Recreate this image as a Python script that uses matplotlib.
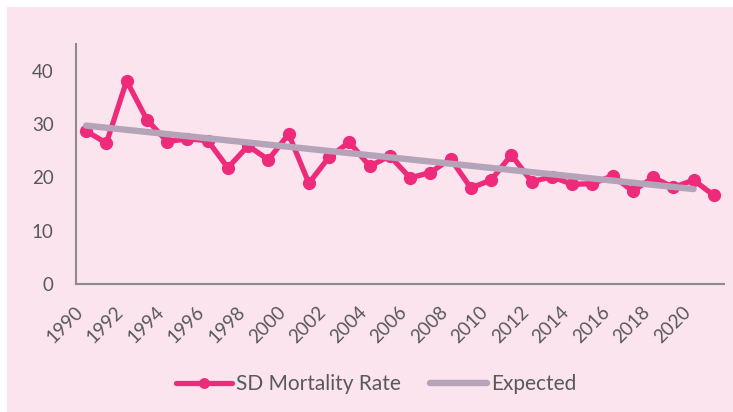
"""
SD mortality rate against expected trend, 1990-2021.
"""

from matplotlib import pyplot as plt

years = list(range(1990, 2022))
mortality = [
    28.7, 26.4, 38.1, 30.8, 26.7, 27.2, 26.9, 21.8, 25.9, 23.3,
    28.1, 18.9, 23.8, 26.6, 22.1, 24.0, 19.9, 20.9, 23.5, 18.0,
    19.5, 24.2, 19.2, 20.1, 18.7, 18.8, 20.3, 17.4, 20.0, 18.1,
    19.5, 16.6,
]
expected_years = [1990, 2020]
expected = [29.7, 17.8]
tick_years = list(range(1990, 2021, 2))
y_ticks = [0, 10, 20, 30, 40]

pink = '#EE2A7B'
lavender = '#B4A3B9'
background = '#FBE4EE'
text_color = '#595959'

plt.rcParams['font.family'] = ['Lato', 'DejaVu Sans']

fig = plt.figure(figsize=(7.33, 4.12), dpi=100)
fig.patch.set_facecolor(background)
# thin white margin along the top and left edges
for xy, w, h in [((0, 1 - 7 / 412), 1, 7 / 412), ((0, 0), 7 / 733, 1)]:
    fig.patches.append(plt.Rectangle(xy, w, h, transform=fig.transFigure,
                                     facecolor='white', edgecolor='none',
                                     zorder=-10))

ax = fig.add_axes([76 / 733, 1 - 284 / 412, (724 - 76) / 733, (284 - 44) / 412])
ax.set_facecolor('none')

ax.plot(years, mortality, color=pink, linewidth=3.8, marker='o',
        markersize=8.5, label='SD Mortality Rate', zorder=3,
        solid_capstyle='round')
ax.plot(expected_years, expected, color=lavender, linewidth=4.6,
        label='Expected', zorder=4, solid_capstyle='round')

ax.set_xlim(1989.5, 2021.5)
ax.set_ylim(0, 45)
ax.set_yticks(y_ticks)
ax.set_xticks(tick_years)
ax.set_xticklabels([str(y) for y in tick_years], rotation=45, ha='right')

for side in ['top', 'right']:
    ax.spines[side].set_visible(False)
for side in ['left', 'bottom']:
    ax.spines[side].set_color('#8C8C8C')
    ax.spines[side].set_linewidth(1.5)

ax.tick_params(axis='both', length=0, labelsize=13.5, labelcolor=text_color)
ax.tick_params(axis='x', pad=14)
ax.tick_params(axis='y', pad=16)

leg = fig.legend(loc='center', bbox_to_anchor=(376 / 733, 1 - 384 / 412),
                 ncol=2, frameon=False, fontsize=15, handlelength=2.7,
                 handletextpad=0.2, columnspacing=1.4, markerscale=0.8)
for t in leg.get_texts():
    t.set_color(text_color)

plt.savefig('out.png', dpi=100, facecolor=fig.get_facecolor())
